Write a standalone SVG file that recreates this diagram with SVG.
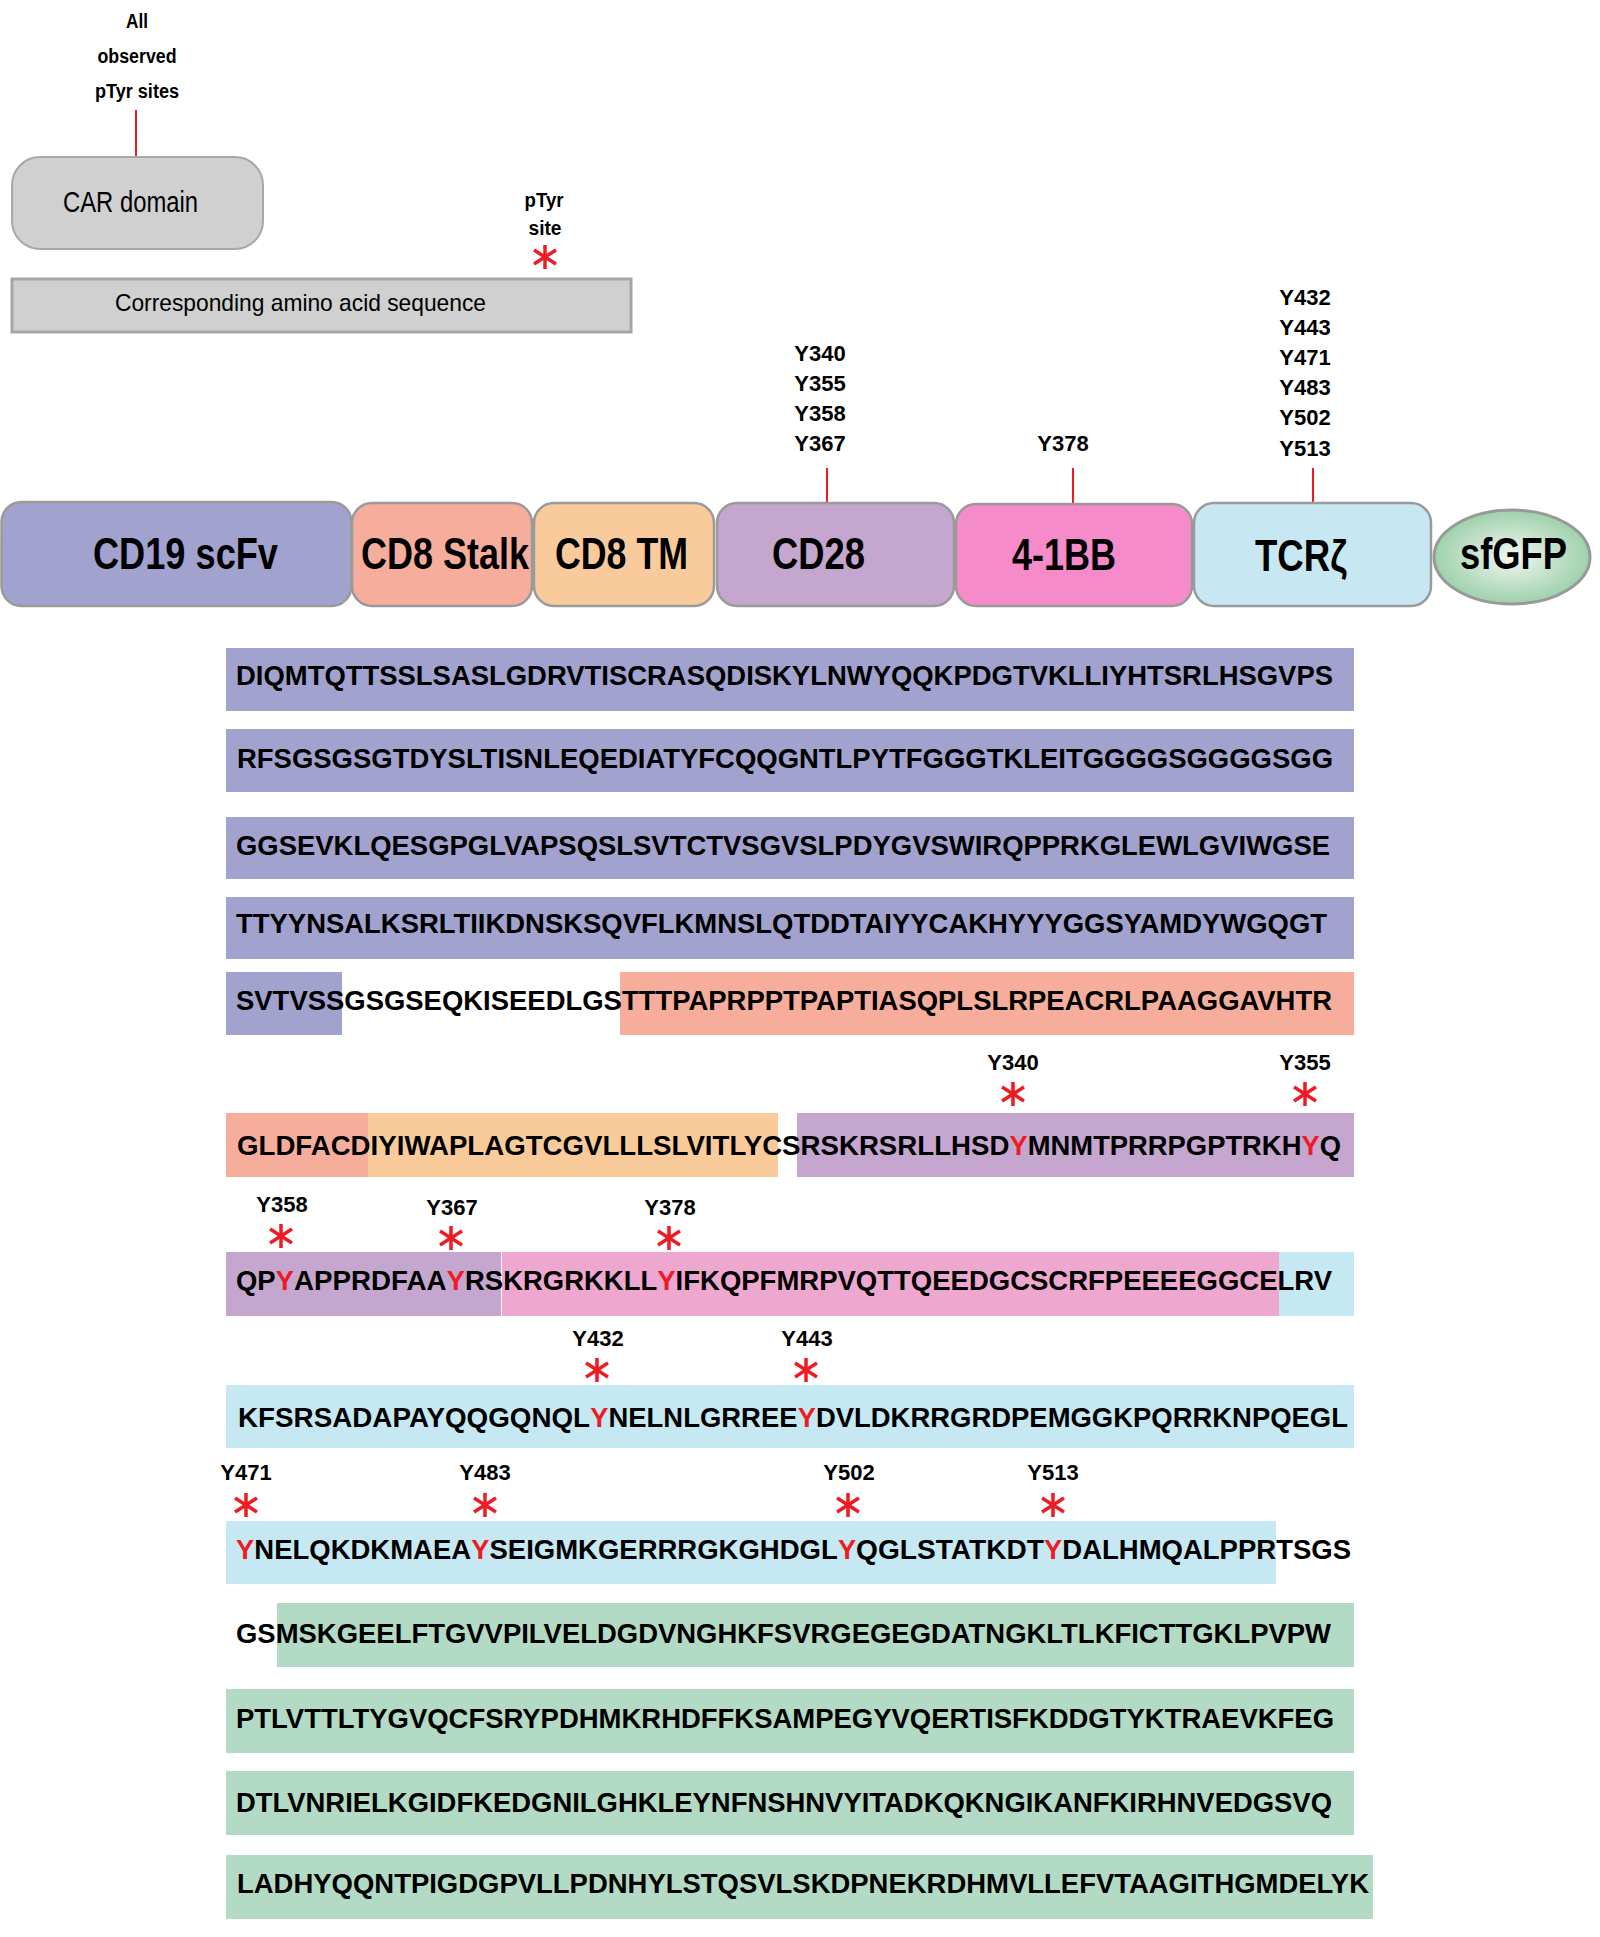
<svg xmlns="http://www.w3.org/2000/svg" width="1600" height="1937" viewBox="0 0 1600 1937">
<style>
text{font-family:"Liberation Sans",Arial,sans-serif;font-weight:bold;fill:#000}
.lbl{font-size:22px;text-anchor:middle}
.top{font-size:20px;text-anchor:middle}
.dom{font-size:44px;text-anchor:middle}
.seq{font-size:27px}
.r{fill:#ed1c24}
.dbox{stroke:#9a9a9a;stroke-width:2.5}
.conn{stroke:#ed1c24;stroke-width:2}
.ast{stroke:#ed1c24;stroke-width:3.5;fill:none}
</style>
<defs>
<radialGradient id="gfp" cx="50%" cy="50%" r="55%">
<stop offset="0" stop-color="#f2f7f2"/>
<stop offset="1" stop-color="#96cda4"/>
</radialGradient>
<g id="ast"><line x1="0" y1="-12" x2="0" y2="12"/><line x1="-11" y1="-7" x2="11" y2="7"/><line x1="-11" y1="7" x2="11" y2="-7"/></g>
</defs>
<rect width="1600" height="1937" fill="#fff"/>

<g id="legend">
<g id="legend-label">
<text class="top" x="137" y="28" textLength="22" lengthAdjust="spacingAndGlyphs">All</text>
<text class="top" x="137" y="63" textLength="79" lengthAdjust="spacingAndGlyphs">observed</text>
<text class="top" x="137" y="98" textLength="84" lengthAdjust="spacingAndGlyphs">pTyr sites</text>
</g>
<g id="car-domain">
<rect x="12" y="157" width="251" height="92" rx="28" fill="#d0d0d0" stroke="#a8a8a8" stroke-width="2"/>
<text x="130.5" y="212" font-size="29" text-anchor="middle" textLength="135" lengthAdjust="spacingAndGlyphs" style="font-weight:normal">CAR domain</text>
</g>
<g id="aa-seq-legend">
<rect x="12" y="279" width="619" height="53" fill="#d0d0d0" stroke="#a5a5a5" stroke-width="3"/>
<text x="300.5" y="311" font-size="24" text-anchor="middle" textLength="371" lengthAdjust="spacingAndGlyphs" style="font-weight:normal">Corresponding amino acid sequence</text>
</g>
<g id="ptyr-legend">
<text class="top" x="544" y="207" textLength="39" lengthAdjust="spacingAndGlyphs">pTyr</text>
<text class="top" x="545" y="235" textLength="33" lengthAdjust="spacingAndGlyphs">site</text>
<use href="#ast" class="ast" x="545" y="257"/>
</g>
</g>

<g id="connectors">
<line class="conn" x1="136" y1="110" x2="136" y2="156"/>
<line class="conn" x1="827" y1="468" x2="827" y2="502"/>
<line class="conn" x1="1073" y1="468" x2="1073" y2="503"/>
<line class="conn" x1="1313" y1="468" x2="1313" y2="503"/>
</g>

<g id="domain-labels">
<text class="lbl" x="820" y="361">Y340</text>
<text class="lbl" x="820" y="391">Y355</text>
<text class="lbl" x="820" y="421">Y358</text>
<text class="lbl" x="820" y="451">Y367</text>
<text class="lbl" x="1063" y="451">Y378</text>
<text class="lbl" x="1305" y="305">Y432</text>
<text class="lbl" x="1305" y="335">Y443</text>
<text class="lbl" x="1305" y="365">Y471</text>
<text class="lbl" x="1305" y="395">Y483</text>
<text class="lbl" x="1305" y="425">Y502</text>
<text class="lbl" x="1305" y="456">Y513</text>
</g>

<g id="cd19-scfv"><rect class="dbox" x="1.5" y="502" width="350" height="104" rx="20" fill="#a2a2cf"/><text class="dom" x="185.5" y="569" textLength="185" lengthAdjust="spacingAndGlyphs">CD19 scFv</text></g>
<g id="cd8-stalk"><rect class="dbox" x="352" y="503" width="180" height="103" rx="20" fill="#f7ad9c"/><text class="dom" x="445" y="569" textLength="168" lengthAdjust="spacingAndGlyphs">CD8 Stalk</text></g>
<g id="cd8-tm"><rect class="dbox" x="534" y="503" width="180" height="103" rx="20" fill="#f9cb9c"/><text class="dom" x="621.5" y="569" textLength="133" lengthAdjust="spacingAndGlyphs">CD8 TM</text></g>
<g id="cd28"><rect class="dbox" x="717" y="503" width="237" height="103" rx="20" fill="#c4a6cf"/><text class="dom" x="818.5" y="569" textLength="93" lengthAdjust="spacingAndGlyphs">CD28</text></g>
<g id="4-1bb"><rect class="dbox" x="956" y="504" width="236" height="102" rx="20" fill="#f58bc9"/><text class="dom" x="1064" y="570" textLength="104" lengthAdjust="spacingAndGlyphs">4-1BB</text></g>
<g id="tcrz"><rect class="dbox" x="1194" y="503" width="237" height="103" rx="20" fill="#c7e8f2"/><text class="dom" x="1301" y="571" textLength="92" lengthAdjust="spacingAndGlyphs">TCRζ</text></g>
<g id="sfgfp"><ellipse cx="1512" cy="557" rx="78" ry="47" fill="url(#gfp)" stroke="#999" stroke-width="3"/><text class="dom" x="1513.5" y="569" textLength="107" lengthAdjust="spacingAndGlyphs">sfGFP</text></g>

<g id="sequence">
<rect x="226" y="648" width="1128" height="63" fill="#a2a2cf"/>
<rect x="226" y="729" width="1128" height="63" fill="#a2a2cf"/>
<rect x="226" y="817" width="1128" height="62" fill="#a2a2cf"/>
<rect x="226" y="897" width="1128" height="62" fill="#a2a2cf"/>
<rect x="226" y="972" width="116" height="63" fill="#a2a2cf"/>
<rect x="620" y="972" width="734" height="63" fill="#f7ad9b"/>
<rect x="226" y="1113" width="142" height="64" fill="#f7ad9b"/>
<rect x="368" y="1113" width="410" height="64" fill="#f9cb9b"/>
<rect x="797" y="1113" width="557" height="64" fill="#c4a6cf"/>
<rect x="226" y="1252" width="275" height="64" fill="#c4a6cf"/>
<rect x="502" y="1252" width="777" height="64" fill="#eea7cf"/>
<rect x="1279" y="1252" width="75" height="64" fill="#c6e8f2"/>
<rect x="226" y="1385" width="1128" height="63" fill="#c6e8f2"/>
<rect x="226" y="1521" width="1050" height="63" fill="#c6e8f2"/>
<rect x="277" y="1603" width="1077" height="64" fill="#b3dac5"/>
<rect x="226" y="1689" width="1128" height="64" fill="#b3dac5"/>
<rect x="226" y="1771" width="1128" height="64" fill="#b3dac5"/>
<rect x="226" y="1855" width="1147" height="64" fill="#b3dac5"/>

<text class="seq" x="236" y="685" textLength="1097" lengthAdjust="spacingAndGlyphs">DIQMTQTTSSLSASLGDRVTISCRASQDISKYLNWYQQKPDGTVKLLIYHTSRLHSGVPS</text>
<text class="seq" x="237" y="768" textLength="1096" lengthAdjust="spacingAndGlyphs">RFSGSGSGTDYSLTISNLEQEDIATYFCQQGNTLPYTFGGGTKLEITGGGGSGGGGSGG</text>
<text class="seq" x="236" y="855" textLength="1094" lengthAdjust="spacingAndGlyphs">GGSEVKLQESGPGLVAPSQSLSVTCTVSGVSLPDYGVSWIRQPPRKGLEWLGVIWGSE</text>
<text class="seq" x="236" y="933" textLength="1091" lengthAdjust="spacingAndGlyphs">TTYYNSALKSRLTIIKDNSKSQVFLKMNSLQTDDTAIYYCAKHYYYGGSYAMDYWGQGT</text>
<text class="seq" x="236" y="1010" textLength="1096" lengthAdjust="spacingAndGlyphs">SVTVSSGSGSEQKISEEDLGSTTTPAPRPPTPAPTIASQPLSLRPEACRLPAAGGAVHTR</text>

<g id="row6">
<text class="seq" x="237" y="1155" textLength="772.4" lengthAdjust="spacingAndGlyphs">GLDFACDIYIWAPLAGTCGVLLLSLVITLYCSRSKRSRLLHSD</text>
<text class="seq r" x="1009.6" y="1155" textLength="18.1" lengthAdjust="spacingAndGlyphs">Y</text>
<text class="seq" x="1027.8" y="1155" textLength="273.6" lengthAdjust="spacingAndGlyphs">MNMTPRRPGPTRKH</text>
<text class="seq r" x="1301.5" y="1155" textLength="18.1" lengthAdjust="spacingAndGlyphs">Y</text>
<text class="seq" x="1319.7" y="1155" textLength="21.3" lengthAdjust="spacingAndGlyphs">Q</text>
</g>
<g id="row7">
<text class="seq" x="236" y="1290" textLength="39.6" lengthAdjust="spacingAndGlyphs">QP</text>
<text class="seq r" x="275.8" y="1290" textLength="18.1" lengthAdjust="spacingAndGlyphs">Y</text>
<text class="seq" x="294" y="1290" textLength="152.5" lengthAdjust="spacingAndGlyphs">APPRDFAA</text>
<text class="seq r" x="446.7" y="1290" textLength="18.1" lengthAdjust="spacingAndGlyphs">Y</text>
<text class="seq" x="465" y="1290" textLength="192.2" lengthAdjust="spacingAndGlyphs">RSKRGRKKLL</text>
<text class="seq r" x="657.4" y="1290" textLength="18.1" lengthAdjust="spacingAndGlyphs">Y</text>
<text class="seq" x="675.6" y="1290" textLength="656.4" lengthAdjust="spacingAndGlyphs">IFKQPFMRPVQTTQEEDGCSCRFPEEEEGGCELRV</text>
</g>
<g id="row8">
<text class="seq" x="238" y="1427" textLength="352.1" lengthAdjust="spacingAndGlyphs">KFSRSADAPAYQQGQNQL</text>
<text class="seq r" x="590.3" y="1427" textLength="18.1" lengthAdjust="spacingAndGlyphs">Y</text>
<text class="seq" x="608.5" y="1427" textLength="189" lengthAdjust="spacingAndGlyphs">NELNLGRREE</text>
<text class="seq r" x="797.7" y="1427" textLength="18.1" lengthAdjust="spacingAndGlyphs">Y</text>
<text class="seq" x="815.9" y="1427" textLength="532.1" lengthAdjust="spacingAndGlyphs">DVLDKRRGRDPEMGGKPQRRKNPQEGL</text>
</g>
<g id="row9">
<text class="seq r" x="236.1" y="1559" textLength="18.1" lengthAdjust="spacingAndGlyphs">Y</text>
<text class="seq" x="254.3" y="1559" textLength="216.8" lengthAdjust="spacingAndGlyphs">NELQKDKMAEA</text>
<text class="seq r" x="471.3" y="1559" textLength="18.1" lengthAdjust="spacingAndGlyphs">Y</text>
<text class="seq" x="489.5" y="1559" textLength="348.2" lengthAdjust="spacingAndGlyphs">SEIGMKGERRRGKGHDGL</text>
<text class="seq r" x="837.9" y="1559" textLength="18.1" lengthAdjust="spacingAndGlyphs">Y</text>
<text class="seq" x="856.1" y="1559" textLength="187.8" lengthAdjust="spacingAndGlyphs">QGLSTATKDT</text>
<text class="seq r" x="1044.1" y="1559" textLength="18.1" lengthAdjust="spacingAndGlyphs">Y</text>
<text class="seq" x="1062.3" y="1559" textLength="288.7" lengthAdjust="spacingAndGlyphs">DALHMQALPPRTSGS</text>
</g>

<text class="seq" x="236" y="1643" textLength="1095" lengthAdjust="spacingAndGlyphs">GSMSKGEELFTGVVPILVELDGDVNGHKFSVRGEGEGDATNGKLTLKFICTTGKLPVPW</text>
<text class="seq" x="236" y="1728" textLength="1098" lengthAdjust="spacingAndGlyphs">PTLVTTLTYGVQCFSRYPDHMKRHDFFKSAMPEGYVQERTISFKDDGTYKTRAEVKFEG</text>
<text class="seq" x="236" y="1812" textLength="1096" lengthAdjust="spacingAndGlyphs">DTLVNRIELKGIDFKEDGNILGHKLEYNFNSHNVYITADKQKNGIKANFKIRHNVEDGSVQ</text>
<text class="seq" x="237" y="1893" textLength="1132" lengthAdjust="spacingAndGlyphs">LADHYQQNTPIGDGPVLLPDNHYLSTQSVLSKDPNEKRDHMVLLEFVTAAGITHGMDELYK</text>
</g>

<g id="ptyr-sites">
<text class="lbl" x="1013" y="1070">Y340</text>
<text class="lbl" x="1305" y="1070">Y355</text>
<use href="#ast" class="ast" x="1013" y="1094"/>
<use href="#ast" class="ast" x="1305" y="1094"/>
<text class="lbl" x="282" y="1212">Y358</text>
<text class="lbl" x="452" y="1215">Y367</text>
<text class="lbl" x="670" y="1215">Y378</text>
<use href="#ast" class="ast" x="281" y="1236"/>
<use href="#ast" class="ast" x="451" y="1238"/>
<use href="#ast" class="ast" x="669" y="1238"/>
<text class="lbl" x="598" y="1346">Y432</text>
<text class="lbl" x="807" y="1346">Y443</text>
<use href="#ast" class="ast" x="597" y="1370"/>
<use href="#ast" class="ast" x="806" y="1370"/>
<text class="lbl" x="246" y="1480">Y471</text>
<text class="lbl" x="485" y="1480">Y483</text>
<text class="lbl" x="849" y="1480">Y502</text>
<text class="lbl" x="1053" y="1480">Y513</text>
<use href="#ast" class="ast" x="246" y="1505"/>
<use href="#ast" class="ast" x="485" y="1505"/>
<use href="#ast" class="ast" x="848" y="1505"/>
<use href="#ast" class="ast" x="1053" y="1505"/>
</g>
</svg>
